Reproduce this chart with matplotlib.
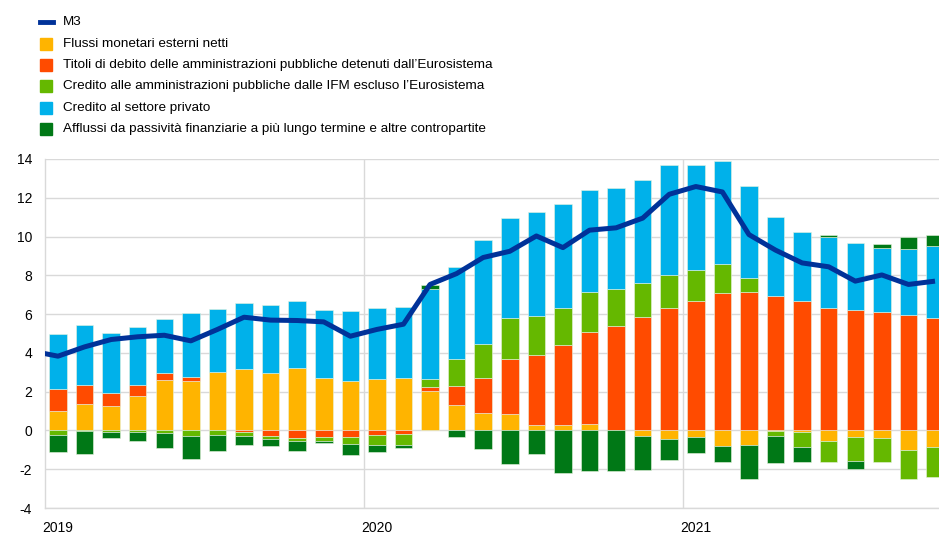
import matplotlib.pyplot as plt
import numpy as np
from matplotlib.lines import Line2D
from matplotlib.patches import Rectangle

plt.rcParams['font.family'] = ['Liberation Sans', 'DejaVu Sans']
plt.rcParams['axes.unicode_minus'] = False

# gen 2019 - ott 2021, dati mensili
yellow = [1.01, 1.36, 1.24, 1.77, 2.59, 2.54, 3.04, 3.16, 2.94, 3.21, 2.70, 2.53,
          2.65, 2.73, 2.04, 1.32, 0.88, 0.84, 0.26, 0.27, 0.33, 0.00, -0.29, -0.45,
          -0.33, -0.79, -0.76, -0.03, -0.10, -0.55, -0.33, -0.40, -1.00, -0.86]
red = [1.12, 0.96, 0.70, 0.57, 0.35, 0.21, 0.00, -0.09, -0.29, -0.38, -0.33, -0.34,
       -0.26, -0.19, 0.21, 0.98, 1.85, 2.85, 3.64, 4.15, 4.77, 5.41, 5.86, 6.32,
       6.70, 7.10, 7.15, 6.94, 6.67, 6.32, 6.22, 6.13, 5.96, 5.82]
lgreen = [-0.22, -0.02, -0.08, -0.07, -0.14, -0.31, -0.22, -0.18, -0.17, -0.15, -0.22, -0.38,
          -0.48, -0.57, 0.41, 1.36, 1.75, 2.13, 2.01, 1.87, 2.06, 1.89, 1.77, 1.70,
          1.58, 1.47, 0.70, -0.26, -0.77, -1.10, -1.27, -1.25, -1.51, -1.56]
blue = [2.82, 3.13, 3.11, 2.99, 2.83, 3.33, 3.20, 3.39, 3.52, 3.49, 3.52, 3.62,
        3.64, 3.64, 4.63, 4.76, 5.35, 5.12, 5.34, 5.38, 5.26, 5.19, 5.31, 5.69,
        5.40, 5.31, 4.74, 4.07, 3.57, 3.65, 3.47, 3.27, 3.42, 3.68]
dgreen = [-0.91, -1.19, -0.30, -0.45, -0.75, -1.18, -0.86, -0.47, -0.33, -0.52, -0.12, -0.53,
          -0.39, -0.17, 0.19, -0.33, -0.96, -1.74, -1.20, -2.22, -2.11, -2.08, -1.74, -1.10,
          -0.84, -0.84, -1.77, -1.39, -0.76, 0.09, -0.38, 0.24, 0.62, 0.60]
# M3: dic 2018 - ott 2021
m3 = [4.10, 3.83, 4.31, 4.69, 4.83, 4.91, 4.62, 5.21, 5.84, 5.69, 5.67, 5.60, 4.86,
      5.21, 5.48, 7.53, 8.09, 8.92, 9.24, 10.03, 9.43, 10.33, 10.45, 10.95, 12.18,
      12.58, 12.30, 10.10, 9.30, 8.64, 8.44, 7.70, 8.02, 7.53, 7.70]
years = ['2019', '2020', '2021']

labels = ['Flussi monetari esterni netti',
          'Titoli di debito delle amministrazioni pubbliche detenuti dall\u2019Eurosistema',
          'Credito alle amministrazioni pubbliche dalle IFM escluso l\u2019Eurosistema',
          'Credito al settore privato',
          'Afflussi da passivit\u00e0 finanziarie a pi\u00f9 lungo termine e altre contropartite']
colors = ['#FFB400', '#FF4B00', '#65B800', '#00B1EA', '#007816']
m3_color = '#003299'

fig = plt.figure(figsize=(9.39, 5.33), dpi=100)
ax = fig.add_axes([0.0476, 0.0469, 0.9524, 0.6548])

x = np.arange(len(yellow))
pos = np.zeros(len(x))
neg = np.zeros(len(x))
for serie, col in zip([yellow, red, lgreen, blue, dgreen], colors):
    v = np.array(serie)
    base = np.where(v >= 0, pos, neg)
    ax.bar(x, v, bottom=base, width=0.66, color=col, edgecolor='#e8f4e0', linewidth=0.4, zorder=2)
    pos = pos + np.where(v >= 0, v, 0)
    neg = neg + np.where(v < 0, v, 0)

xm = np.arange(-1, len(yellow))
ax.plot(xm, m3, color=m3_color, linewidth=3.6, zorder=3, solid_capstyle='butt')

ax.set_xlim(-0.5, 33.15)
ax.set_ylim(-4, 14)
ax.set_yticks(np.arange(-4, 15, 2))
ax.set_xticks([0, 12, 24])
ax.set_xticklabels(years)
ax.set_xticks([11.5, 23.5], minor=True)
ax.tick_params(axis='both', which='both', length=0, labelsize=10, colors='black')
ax.tick_params(axis='y', pad=9)
ax.tick_params(axis='x', pad=9)
ax.grid(axis='y', color='#d9d9d9', linewidth=1, zorder=0)
ax.grid(axis='x', which='minor', color='#d9d9d9', linewidth=1, zorder=0)
for s in ['top', 'right']:
    ax.spines[s].set_visible(False)
for s in ['left', 'bottom']:
    ax.spines[s].set_color('#d9d9d9')
    ax.spines[s].set_linewidth(1)

# legenda manuale
W, H = 939, 533
ys = [22, 44, 65, 86, 108, 129]
fig.add_artist(Line2D([40 / W, 53 / W], [1 - ys[0] / H] * 2, color=m3_color, linewidth=3.5))
fig.text(63 / W, 1 - ys[0] / H, 'M3', fontsize=9.7, va='center', ha='left')
for yy, lab, col in zip(ys[1:], labels, colors):
    fig.add_artist(Rectangle((40 / W, 1 - (yy + 6) / H), 12 / W, 12 / H, color=col))
    fig.text(63 / W, 1 - yy / H, lab, fontsize=9.7, va='center', ha='left')

fig.savefig('out.png', dpi=100)
